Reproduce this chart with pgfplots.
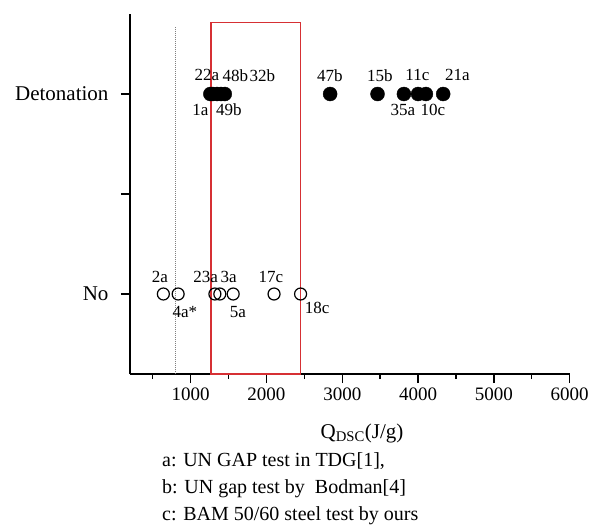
\documentclass[border=0pt]{standalone}
\usepackage{pgfplots}
\pgfplotsset{compat=1.18}
\usepackage{fontspec}
\setmainfont{Liberation Serif}
\definecolor{boxred}{RGB}{214,48,52}
\begin{document}
\begin{tikzpicture}
\useasboundingbox (0pt,0pt) rectangle (590pt,-528pt);
\begin{axis}[
  at={(130pt,-374pt)}, anchor=south west,
  scale only axis, width=439.7pt, height=360pt,
  xmin=200, xmax=6000, ymin=-0.4, ymax=1.4,
  axis x line=bottom, axis y line=left,
  axis line style={-, line width=1.4pt, black},
  xtick={1000,2000,3000,4000,5000,6000},
  minor xtick={500,1500,2500,3500,4500,5500},
  ytick={0,0.5,1}, yticklabels={No,,Detonation},
  tick align=outside,
  major tick length=9pt, minor tick length=5pt,
  every tick/.style={black, line width=1.4pt},
  /pgf/number format/assume math mode=true,
  /pgf/number format/set thousands separator={},
  xticklabel style={font=\fontsize{19}{22}\selectfont, yshift=-1pt},
  yticklabel style={font=\fontsize{21}{24}\selectfont, xshift=-9pt},
  clip=false,
]
\draw[gray, densely dotted, line width=1pt] (axis cs:800,-0.4) -- (axis cs:800,1.338);
\addplot[only marks, mark=*, mark size=7pt, black, mark options={fill=black}] coordinates {
  (1260,1) (1290,1) (1350,1) (1400,1) (1450,1)
  (2840,1) (3465,1) (3813,1) (4000,1) (4103,1) (4331,1)
};
\addplot[only marks, mark=o, mark size=6pt, black, mark options={line width=1.2pt, fill=white}] coordinates {
  (640,0) (835,0) (1320,0) (1385,0) (1561,0) (2100,0) (2450,0)
};
\draw[boxred, line width=1.3pt] (axis cs:1270,-0.4) rectangle (axis cs:2450,1.358);
\begin{scope}[every node/.style={font=\fontsize{17}{20}\selectfont, inner sep=0pt}]
\node at (axis cs:1215,1.093) {22a};
\node at (axis cs:1591,1.093) {48b};
\node at (axis cs:1947,1.093) {32b};
\node at (axis cs:1129,0.92) {1a};
\node at (axis cs:1505,0.92) {49b};
\node at (axis cs:2837,1.093) {47b};
\node at (axis cs:3497,1.093) {15b};
\node at (axis cs:3991,1.093) {11c};
\node at (axis cs:4519,1.093) {21a};
\node at (axis cs:3800,0.92) {35a};
\node at (axis cs:4196,0.92) {10c};
\node at (axis cs:595,0.084) {2a};
\node at (axis cs:925,-0.089) {4a*};
\node at (axis cs:1197,0.084) {23a};
\node at (axis cs:1502,0.084) {3a};
\node at (axis cs:1624,-0.089) {5a};
\node at (axis cs:2060,0.084) {17c};
\node at (axis cs:2667,-0.069) {18c};
\end{scope}
\end{axis}
\node[font=\fontsize{21}{24}\selectfont, inner sep=0pt] at (362pt,-433pt) {Q\textsubscript{DSC}(J/g)};
\begin{scope}[every node/.style={font=\fontsize{20}{23}\selectfont, inner sep=0pt, anchor=west}]
\node at (162pt,-461pt) {a: UN GAP test in TDG[1],};
\node at (162pt,-489pt) {b: UN gap test by\ \ Bodman[4]};
\node at (162pt,-516pt) {c: BAM 50/60 steel test by ours};
\end{scope}
\end{tikzpicture}
\end{document}
